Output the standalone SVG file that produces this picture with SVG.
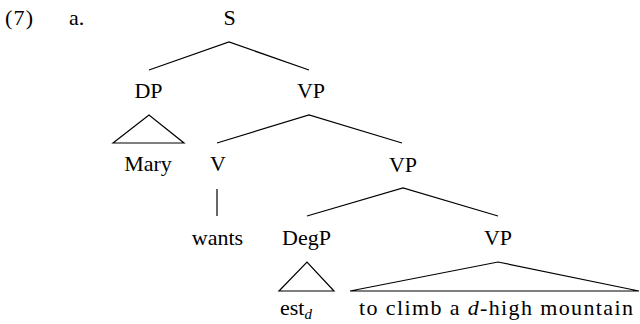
<svg xmlns="http://www.w3.org/2000/svg" width="640" height="324" viewBox="0 0 640 324" font-family="'Liberation Serif', 'DejaVu Serif', serif" font-size="22">
<style>
.c{text-anchor:middle}
.e{stroke:#000;stroke-width:1.2;fill:none}
.i{font-style:italic}
</style>
<rect width="640" height="324" fill="#fff"/>
<g id="label">
<text x="5" y="25" textLength="28">(7)</text>
<text x="69" y="25">a.</text>
</g>
<g id="S"><text class="c" x="229.5" y="25">S</text></g>
<g id="DP"><text class="c" x="148.5" y="98">DP</text></g>
<g id="VP1"><text class="c" x="311" y="98">VP</text></g>
<g id="Mary"><text class="c" x="148" y="171">Mary</text></g>
<g id="V"><text class="c" x="218" y="171">V</text></g>
<g id="VP2"><text class="c" x="403" y="172">VP</text></g>
<g id="wants"><text class="c" x="217.5" y="245">wants</text></g>
<g id="DegP"><text class="c" x="306.5" y="245">DegP</text></g>
<g id="VP3"><text class="c" x="498" y="245">VP</text></g>
<g id="est"><text x="280" y="315">est<tspan class="i" font-size="15" dy="4">d</tspan></text></g>
<g id="phrase"><text x="359" y="315" textLength="274">to climb a <tspan class="i">d</tspan>-high mountain</text></g>
<g id="edges" class="e">
<polyline points="149,70 229,42 309,70"/>
<polygon points="113,143 149,115 184,143"/>
<polyline points="217,143 309,115 402,143"/>
<line x1="217" y1="189" x2="217" y2="216"/>
<polyline points="307,216 403,188 498,216"/>
<polygon points="279,291 307,262 334,291"/>
<polygon points="350,291 498,262 639,291"/>
</g>
</svg>
